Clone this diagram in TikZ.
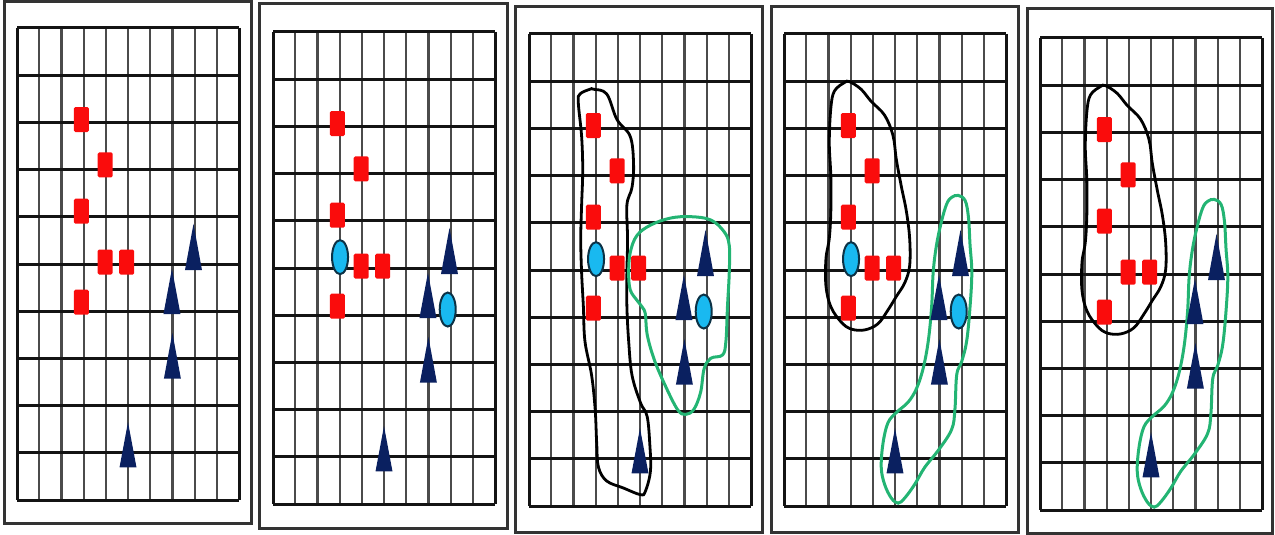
\documentclass[tikz,border=0pt]{standalone}
\definecolor{sqred}{RGB}{250,12,12}
\definecolor{trinavy}{RGB}{10,32,96}
\definecolor{cyanfill}{RGB}{25,185,240}
\definecolor{cyanedge}{RGB}{12,50,70}
\definecolor{blobgreen}{RGB}{35,180,115}
\definecolor{vgray}{RGB}{75,75,75}
\tikzset{
  panelframe/.style={draw=black!80, line width=3pt},
  hline/.style={draw=black!92, line width=3pt},
  vline/.style={draw=vgray, line width=2.2pt},
  redsq/.style={fill=sqred, rounded corners=1.5pt},
  navytri/.style={fill=trinavy},
  cyanell/.style={draw=cyanedge, line width=2pt, fill=cyanfill},
  blackblob/.style={draw=black, line width=2.8pt},
  greenblob/.style={draw=blobgreen, line width=3pt},
  gridcells/.style={x=22.2pt, y=-47.2pt},
}
\newcommand\gridlines{%
  \foreach \i in {1,...,9} {\draw[vline] (\i,0) -- (\i,10);}
  \foreach \j in {0,...,10} {\draw[hline] (0,\j) -- (10,\j);}
  \draw[hline] (0,0) -- (0,10) (10,0) -- (10,10);
}
\newcommand\rsq[2]{\fill[redsq] (#1,#2) ++(-7.5pt,12.5pt) rectangle ++(15pt,-25pt);}
\newcommand\ntri[3]{\fill[navytri] (#1,#2) -- ([xshift=-8.5pt]#1,#3) -- ([xshift=8.5pt]#1,#3) -- cycle;}
\newcommand\cyel[2]{\draw[cyanell] (#1,#2) ellipse [x radius=8pt, y radius=17pt];}
\newcommand\squares{%
  \rsq{2.9}{1.94}\rsq{3.97}{2.9}\rsq{2.9}{3.88}\rsq{3.97}{4.96}\rsq{4.94}{4.96}\rsq{2.9}{5.81}}
\newcommand\triangles{%
  \ntri{7.95}{4.15}{5.13}\ntri{6.98}{5.1}{6.06}\ntri{7.0}{6.46}{7.43}\ntri{5.0}{8.35}{9.31}}
\newcommand\ellipses{\cyel{3.02}{4.77}\cyel{7.87}{5.88}}
\newcommand\blackblobB{%
  \draw[blackblob] plot[smooth cycle, tension=0.6] coordinates {
    (2.95,1.01) (3.47,1.17) (3.93,1.43) (4.53,1.72) (4.91,2.15) (5.06,2.66)
    (5.29,3.24) (5.51,3.75) (5.66,4.33) (5.66,4.91) (5.44,5.27) (5.06,5.56)
    (4.68,5.85) (4.23,6.14) (3.63,6.27) (3.02,6.25) (2.57,6.1) (2.11,5.78)
    (1.89,5.34) (1.89,4.76) (2.04,4.33) (2.11,3.75) (2.11,3.02) (2.04,2.3)
    (2.11,1.57) (2.27,1.21) (2.72,1.03)};}
\newcommand\greenblobB{%
  \draw[greenblob] plot[smooth cycle, tension=0.6] coordinates {
    (7.85,3.42) (8.16,3.53) (8.31,3.89) (8.38,4.47) (8.46,5.05) (8.38,5.78)
    (8.23,6.5) (8.01,6.93) (7.78,7.22) (7.7,7.95) (7.55,8.38) (6.95,8.82)
    (6.34,9.18) (5.89,9.54) (5.44,9.83) (5.14,9.94) (4.83,9.83) (4.53,9.54)
    (4.38,9.18) (4.46,8.67) (4.68,8.24) (5.06,8.02) (5.59,7.8) (5.97,7.51)
    (6.27,7.08) (6.5,6.5) (6.65,5.78) (6.72,5.05) (6.87,4.47) (7.1,3.96)
    (7.33,3.6) (7.55,3.46)};}
\begin{document}
\begin{tikzpicture}[x=1pt, y=-1pt]
\useasboundingbox (0,0) rectangle (1275,535);
% panel frames
\draw[panelframe] (4,2) rectangle (251,523);
\draw[panelframe] (259,4) rectangle (507,528);
\draw[panelframe] (515,7) rectangle (762,532);
\draw[panelframe] (771,7) rectangle (1018,532);
\draw[panelframe] (1027,9) rectangle (1272.5,533);
% panel 1
\begin{scope}[shift={(17pt,-28pt)}, gridcells]
  \gridlines
  \squares
  \triangles
\end{scope}
% panel 2
\begin{scope}[shift={(273pt,-32pt)}, gridcells]
  \gridlines
  \squares
  \triangles
  \ellipses
\end{scope}
% panel 3
\begin{scope}[shift={(529pt,-34pt)}, gridcells]
  \gridlines
  \draw[blackblob] plot[smooth cycle, tension=0.6] coordinates {
    (2.9,1.17) (3.5,1.27) (3.96,1.81) (4.56,2.17) (4.71,2.75) (4.64,3.25)
    (4.41,3.62) (4.44,4.34) (4.41,5.06) (4.41,5.78) (4.49,6.51) (4.64,7.23)
    (5.02,7.81) (5.32,8.1) (5.44,8.68) (5.47,9.26) (5.24,9.69) (5.02,9.76)
    (4.26,9.62) (3.5,9.47) (3.13,9.18) (3.05,8.68) (2.98,7.95) (2.82,7.23)
    (2.52,6.51) (2.45,5.78) (2.37,5.06) (2.33,4.34) (2.37,3.62) (2.42,2.89)
    (2.37,2.17) (2.22,1.45) (2.3,1.27) (2.75,1.17)};
  \draw[greenblob] plot[smooth cycle, tension=0.6] coordinates {
    (7.28,3.87) (8.19,3.94) (8.79,4.19) (9.02,4.48) (9.02,5.06) (8.94,5.78)
    (8.87,6.51) (8.72,6.8) (8.19,6.87) (7.89,7.09) (7.73,7.59) (7.43,7.95)
    (7.05,8.06) (6.68,7.95) (6.07,7.38) (5.62,6.87) (5.32,6.36) (5.24,5.93)
    (5.09,5.78) (4.86,5.64) (4.56,5.42) (4.49,5.06) (4.56,4.63) (4.86,4.27)
    (5.47,4.05) (6.37,3.9)};
  \squares
  \triangles
  \ellipses
\end{scope}
% panel 4
\begin{scope}[shift={(784pt,-34pt)}, gridcells]
  \gridlines
  \blackblobB
  \greenblobB
  \squares
  \triangles
  \ellipses
\end{scope}
% panel 5
\begin{scope}[shift={(1040pt,-38pt)}, gridcells]
  \gridlines
  \blackblobB
  \greenblobB
  \squares
  \triangles
\end{scope}
\end{tikzpicture}
\end{document}
